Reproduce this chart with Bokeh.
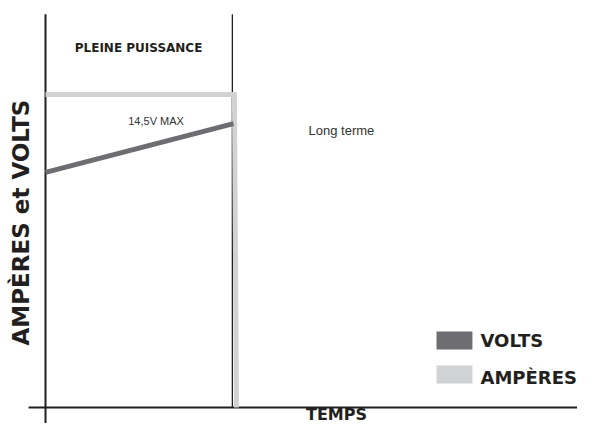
from bokeh.plotting import figure
from bokeh.models import Range1d
from bokeh.core.properties import value
from bokeh.embed import file_html
from bokeh.resources import INLINE
import math

# ---- data (schematic units) ----
time_amps = [0.0, 10.05, 10.16]
amperes = [10.0, 10.0, 0.0]
time_volts = [0.0, 10.0]
volts = [7.51, 9.07]
phase_end = 10.0
axis_top = 12.56

volts_color = "#6d6d72"
amps_color = "#d1d2d4"
ink = "#231f20"

p = figure(width=577, height=423, output_backend="svg", toolbar_location=None,
           x_range=Range1d(-2.394, 28.30), y_range=Range1d(-0.511, 13.003),
           min_border=0)
p.axis.visible = False
p.grid.visible = False
p.outline_line_color = None
p.background_fill_color = "white"

# axes
p.segment(x0=[0], y0=[-0.511], x1=[0], y1=[axis_top], line_color=ink, line_width=2)
p.segment(x0=[-0.9], y0=[0], x1=[28.30], y1=[0], line_color=ink, line_width=2)
# phase divider
p.segment(x0=[phase_end - 0.06], y0=[0], x1=[phase_end - 0.06], y1=[axis_top],
          line_color=ink, line_width=1.3)

# series
p.line(time_amps, amperes, line_color=amps_color, line_width=5, line_join="miter")
p.line(time_volts, volts, line_color=volts_color, line_width=5)

bold = value("DejaVu Sans")
p.text(x=[4.95], y=[11.50], text=["PLEINE PUISSANCE"], text_font=bold,
       text_font_style="bold", text_font_size="12px", text_align="center",
       text_baseline="alphabetic", text_color=ink)
p.text(x=[5.88], y=[9.14], text=["14,5V MAX"], text_font=value("Liberation Sans"),
       text_font_size="11px", text_align="center", text_baseline="alphabetic",
       text_color="#333333")
p.text(x=[15.74], y=[8.85], text=["Long terme"], text_font=value("Liberation Sans"),
       text_font_size="13px", text_align="center", text_baseline="alphabetic",
       text_color="#333333")
p.text(x=[15.48], y=[-0.208], text=["TEMPS"], text_font=bold, text_font_style="bold",
       text_font_size="16px", text_align="center", text_baseline="alphabetic",
       text_color=ink)
p.text(x=[-1.28], y=[5.91], text=["AMPÈRES et VOLTS"], text_font=bold,
       text_font_style="bold", text_font_size="23px", text_align="center",
       text_baseline="alphabetic", angle=math.pi / 2, text_color=ink)

# legend
p.quad(left=[20.80], right=[22.71], bottom=[1.85], top=[2.43], fill_color=volts_color, line_color=None)
p.quad(left=[20.80], right=[22.71], bottom=[0.77], top=[1.34], fill_color=amps_color, line_color=None)
p.text(x=[23.14, 23.14], y=[2.14, 0.96], text=["VOLTS", "AMPÈRES"], text_font=bold,
       text_font_style="bold", text_font_size="18px", text_align="left",
       text_baseline="alphabetic", text_color=ink)

open("out.html", "w").write(file_html(p, INLINE))
